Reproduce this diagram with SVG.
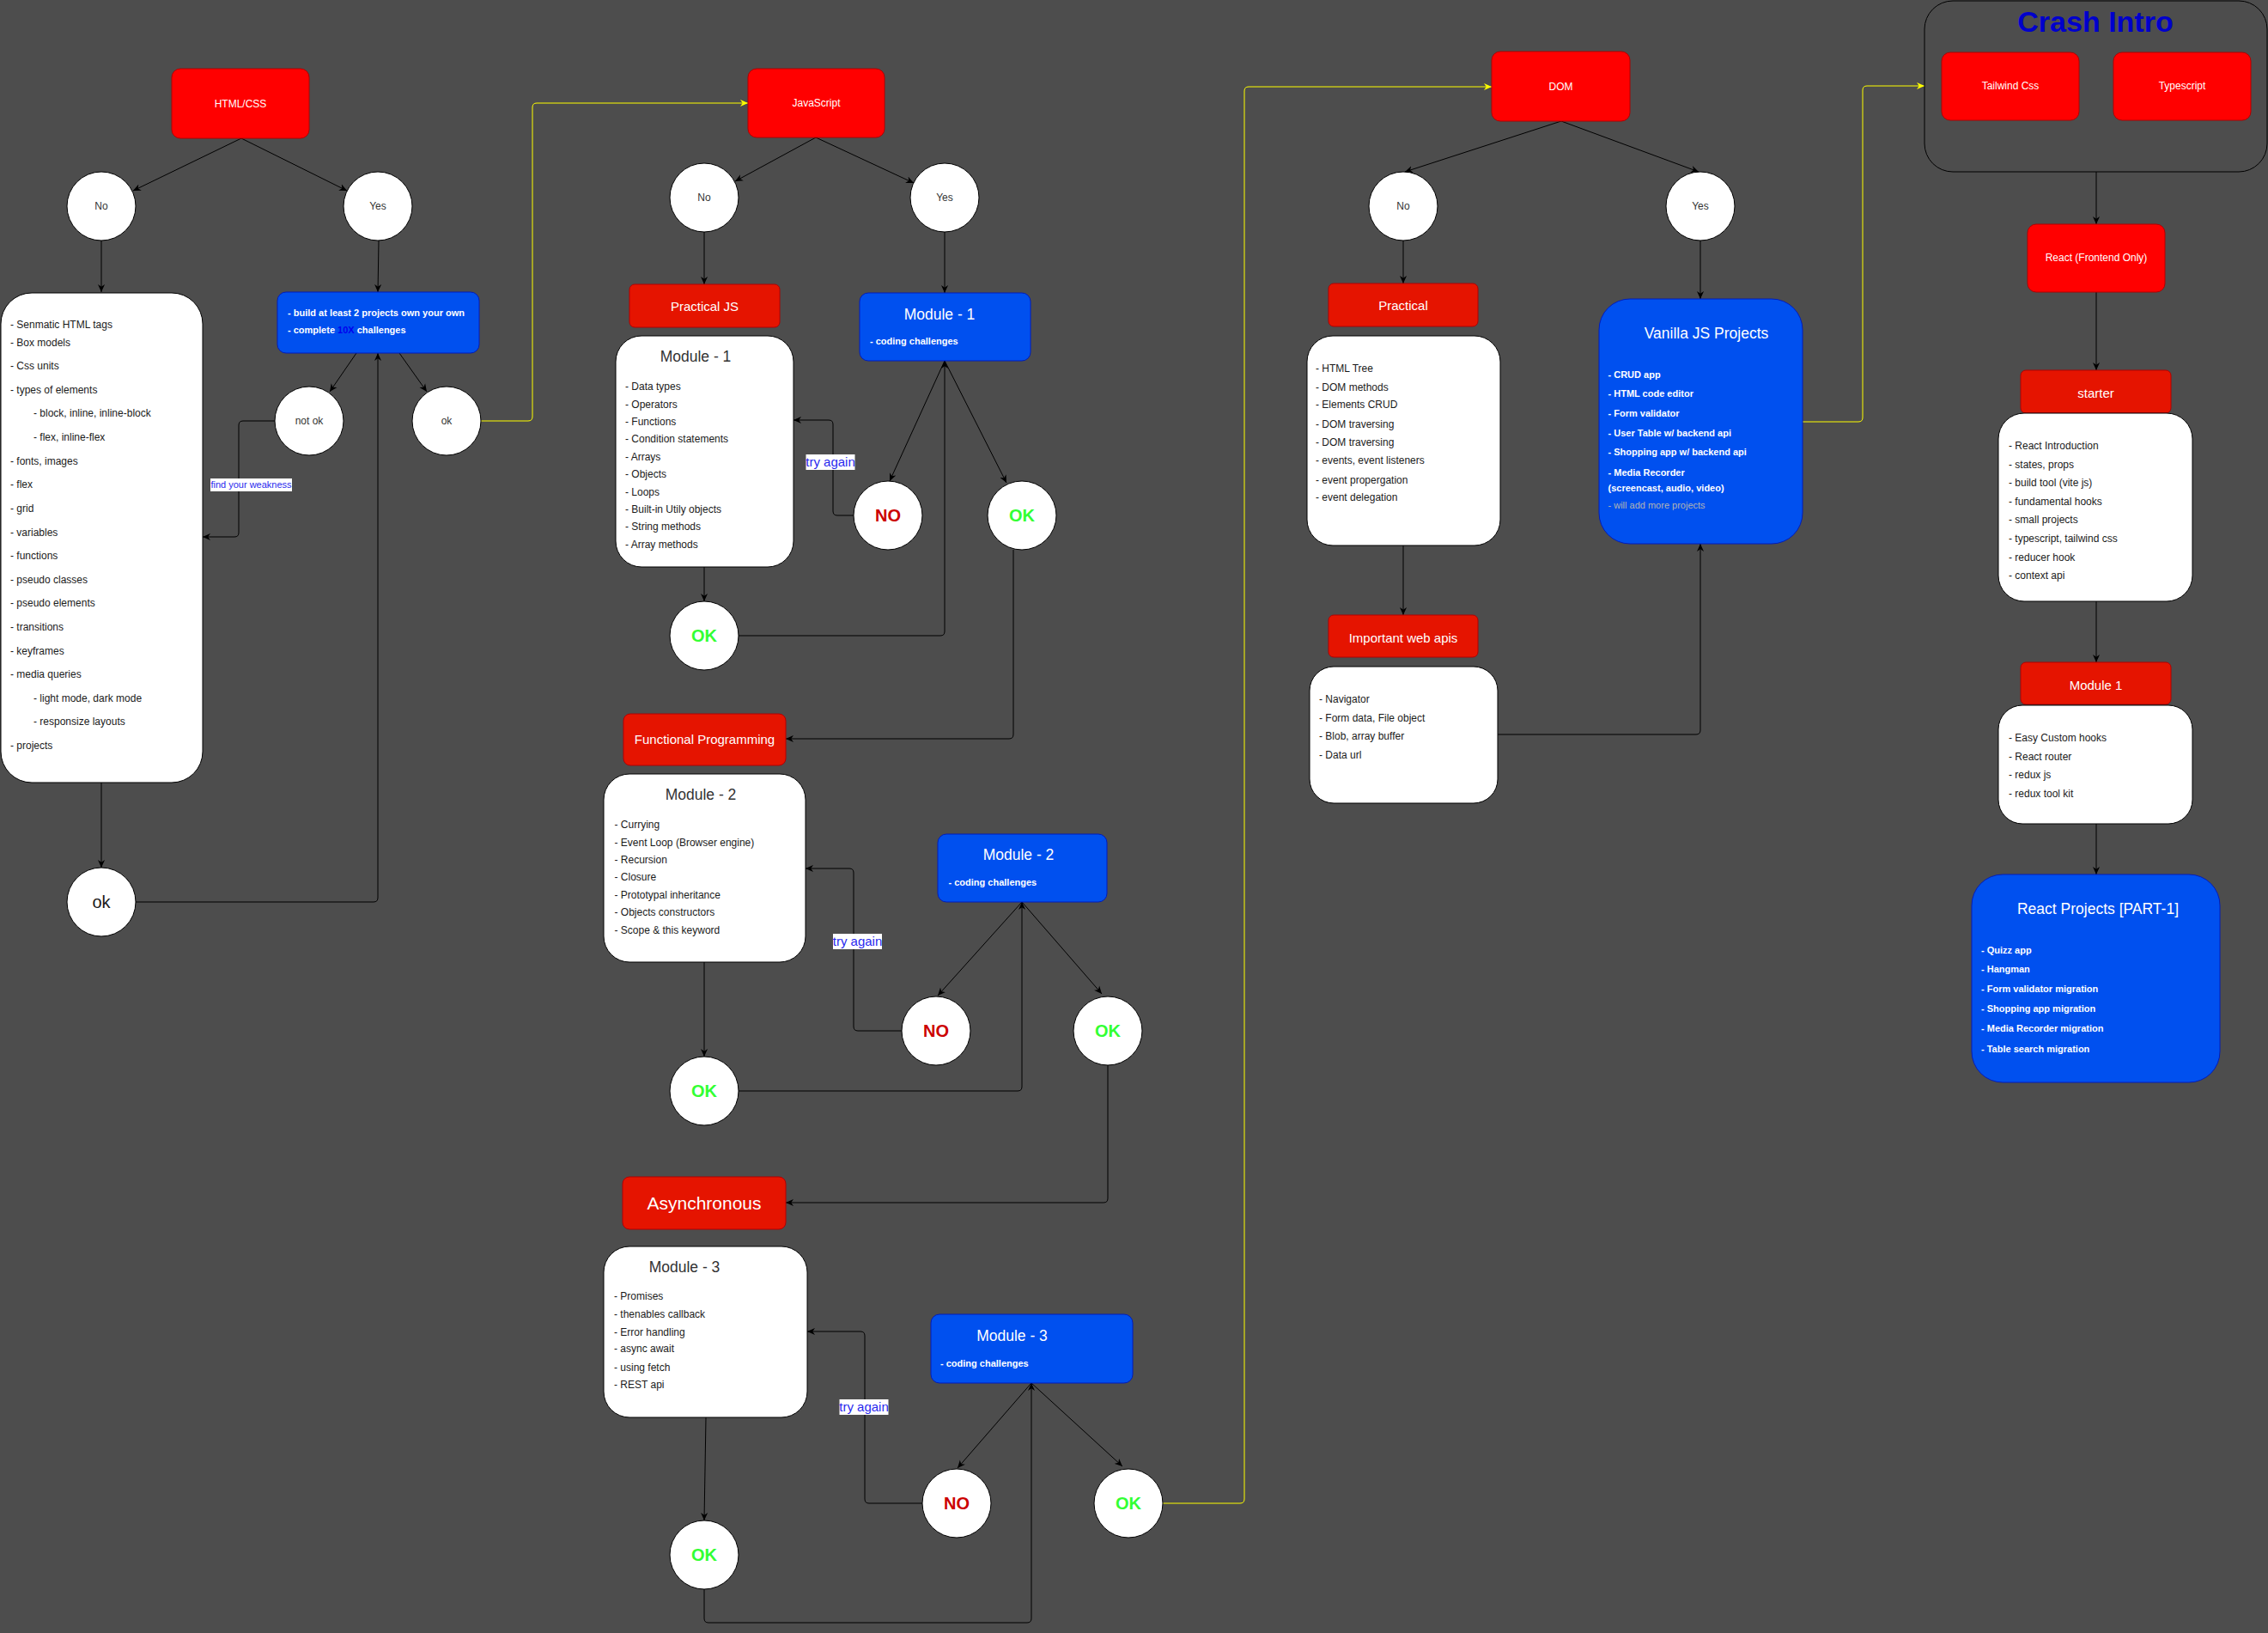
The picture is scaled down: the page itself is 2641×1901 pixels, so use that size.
<svg xmlns="http://www.w3.org/2000/svg" width="2641" height="1901" viewBox="0 0 2641 1901">
<defs>
<style>
text{font-family:"Liberation Sans",Arial,Helvetica,sans-serif}
.red{fill:#ff0000;stroke:#b20000;stroke-width:1}
.dred{fill:#e51400;stroke:#b20000;stroke-width:1}
.blue{fill:#0050ef;stroke:#001dbc;stroke-width:1}
.wb{fill:#ffffff;stroke:#000000;stroke-width:1}
.cont{fill:none;stroke:#000000;stroke-width:1}
.lw{fill:#ffffff;font-size:12px;text-anchor:middle}
.l15{fill:#ffffff;font-size:15px;text-anchor:middle}
.ttl{font-size:17.5px;text-anchor:middle}
.ttlw{fill:#ffffff}
.ttlk{fill:#333333}
.ct{fill:#333333;font-size:12px;text-anchor:middle}
.li{fill:#1a1a1a;font-size:12px}
.bi{fill:#ffffff;font-size:11px;font-weight:bold}
.no{fill:#cc0000;font-size:20px;font-weight:bold;text-anchor:middle}
.ok{fill:#33ff33;font-size:20px;font-weight:bold;text-anchor:middle}
.e{fill:none;stroke:#000000;stroke-width:1;marker-end:url(#a)}
.y{fill:none;stroke:#ffff00;stroke-width:1;marker-end:url(#ay)}
.lblbg{fill:#ffffff}
.lbl{fill:#2a2aee;font-size:15px;text-anchor:middle}
</style>
<marker id="a" viewBox="0 0 10 10" refX="10" refY="5" markerWidth="9" markerHeight="9" markerUnits="userSpaceOnUse" orient="auto"><path d="M0,0.5 L10,5 L0,9.5 L3,5 z" fill="#000000"/></marker>
<marker id="ay" viewBox="0 0 10 10" refX="10" refY="5" markerWidth="9" markerHeight="9" markerUnits="userSpaceOnUse" orient="auto"><path d="M0,0.5 L10,5 L0,9.5 L3,5 z" fill="#ffff00"/></marker>
</defs>
<rect x="0" y="0" width="2641" height="1901" fill="#4d4d4d"/>

<g id="connectors">
<!-- HTML/CSS -->
<path class="e" d="M281,161 L155,222"/>
<path class="e" d="M281,161 L404,222"/>
<path class="e" d="M118,280 L118,340"/>
<path class="e" d="M441,280 L440,340"/>
<path class="e" d="M415,411 L384,456"/>
<path class="e" d="M465,411 L497,456"/>
<path class="e" d="M320,490 L283,490 Q278,490 278,495 L278,620 Q278,625 273,625 L236,625"/>
<path class="e" d="M118,911 L118,1010"/>
<path class="e" d="M158,1050 L435,1050 Q440,1050 440,1045 L440,411"/>
<path class="y" d="M560,490 L615,490 Q620,490 620,485 L620,125 Q620,120 625,120 L871,120"/>
<!-- JavaScript -->
<path class="e" d="M950,160 L856,211"/>
<path class="e" d="M950,160 L1064,213"/>
<path class="e" d="M820,270 L820,331"/>
<path class="e" d="M1100,270 L1100,341"/>
<path class="e" d="M1100,420 L1036,560"/>
<path class="e" d="M1100,420 L1172,562"/>
<path class="e" d="M994,600 L975,600 Q970,600 970,595 L970,494 Q970,489 965,489 L924,489"/>
<path class="e" d="M820,660 L820,700"/>
<path class="e" d="M860,740 L1095,740 Q1100,740 1100,735 L1100,420"/>
<path class="e" d="M1180,640 L1180,855 Q1180,860 1175,860 L915,860"/>
<!-- Module 2 -->
<path class="e" d="M1190,1050 L1092,1159"/>
<path class="e" d="M1190,1050 L1283,1157"/>
<path class="e" d="M1050,1200 L999,1200 Q994,1200 994,1195 L994,1016 Q994,1011 989,1011 L938,1011"/>
<path class="e" d="M820,1120 L820,1230"/>
<path class="e" d="M860,1270 L1185,1270 Q1190,1270 1190,1265 L1190,1050"/>
<path class="e" d="M1290,1240 L1290,1395 Q1290,1400 1285,1400 L915,1400"/>
<!-- Module 3 -->
<path class="e" d="M1201,1610 L1115,1709"/>
<path class="e" d="M1201,1610 L1307,1707"/>
<path class="e" d="M1074,1750 L1012,1750 Q1007,1750 1007,1745 L1007,1555 Q1007,1550 1002,1550 L940,1550"/>
<path class="e" d="M822,1650 L820,1770"/>
<path class="e" d="M820,1850 L820,1884 Q820,1889 825,1889 L1196,1889 Q1201,1889 1201,1884 L1201,1610"/>
<path class="y" d="M1354,1750 L1444,1750 Q1449,1750 1449,1745 L1449,106 Q1449,101 1454,101 L1737,101"/>
<!-- DOM -->
<path class="e" d="M1818,141 L1636,200"/>
<path class="e" d="M1818,141 L1978,200"/>
<path class="e" d="M1634,280 L1634,330"/>
<path class="e" d="M1980,280 L1980,348"/>
<path class="e" d="M1634,635 L1634,716"/>
<path class="e" d="M1744,855 L1975,855 Q1980,855 1980,850 L1980,633"/>
<path class="y" d="M2099,491 L2164,491 Q2169,491 2169,486 L2169,105 Q2169,100 2174,100 L2241,100"/>
<!-- React -->
<path class="e" d="M2441,200 L2441,261"/>
<path class="e" d="M2441,340 L2441,431"/>
<path class="e" d="M2441,700 L2441,771"/>
<path class="e" d="M2441,959 L2441,1018"/>
<!-- labels -->
<rect class="lblbg" x="245" y="557" width="95" height="15"/>
<text x="292.5" y="568" fill="#2a2aee" font-size="11" text-anchor="middle">find your weakness</text>
<rect class="lblbg" x="938.5" y="529" width="57" height="18"/>
<text class="lbl" x="967" y="543">try again</text>
<rect class="lblbg" x="970" y="1087" width="57" height="18"/>
<text class="lbl" x="998.5" y="1101">try again</text>
<rect class="lblbg" x="977.5" y="1629" width="57" height="18"/>
<text class="lbl" x="1006" y="1643">try again</text>
</g>

<!-- HTML/CSS column -->
<g id="html-css"><rect class="red" x="200" y="80" width="160" height="81" rx="10"/><text class="lw" x="280" y="124.5">HTML/CSS</text></g>
<g id="html-no"><circle class="wb" cx="118" cy="240" r="40"/><text class="ct" x="118" y="244">No</text></g>
<g id="html-yes"><circle class="wb" cx="440" cy="240" r="40"/><text class="ct" x="440" y="244">Yes</text></g>
<g id="html-topics"><rect class="wb" x="1" y="341" width="235" height="570" rx="36"/>
<text class="li"><tspan x="12" y="382">- Senmatic HTML tags</tspan><tspan x="12" y="403">- Box models</tspan><tspan x="12" y="430">- Css units</tspan><tspan x="12" y="458">- types of elements</tspan><tspan x="39" y="485">- block, inline, inline-block</tspan><tspan x="39" y="513">- flex, inline-flex</tspan><tspan x="12" y="541">- fonts, images</tspan><tspan x="12" y="568">- flex</tspan><tspan x="12" y="596">- grid</tspan><tspan x="12" y="624">- variables</tspan><tspan x="12" y="651">- functions</tspan><tspan x="12" y="679">- pseudo classes</tspan><tspan x="12" y="706">- pseudo elements</tspan><tspan x="12" y="734">- transitions</tspan><tspan x="12" y="762">- keyframes</tspan><tspan x="12" y="789">- media queries</tspan><tspan x="39" y="817">- light mode, dark mode</tspan><tspan x="39" y="844">- responsize layouts</tspan><tspan x="12" y="872">- projects</tspan></text></g>
<g id="html-build"><rect class="blue" x="323" y="340" width="235" height="71" rx="10"/>
<text class="bi"><tspan x="335" y="368">- build at least 2 projects own your own</tspan><tspan x="335" y="388">- complete <tspan fill="#0000ee">10X</tspan> challenges</tspan></text></g>
<g id="html-notok"><circle class="wb" cx="360" cy="490" r="40"/><text class="ct" x="360" y="494">not ok</text></g>
<g id="html-ok"><circle class="wb" cx="520" cy="490" r="40"/><text class="ct" x="520" y="494">ok</text></g>
<g id="html-ok2"><circle class="wb" cx="118" cy="1050" r="40"/><text x="118" y="1057" fill="#1a1a1a" font-size="20" text-anchor="middle">ok</text></g>

<!-- JavaScript column -->
<g id="js"><rect class="red" x="871" y="80" width="159" height="80" rx="10"/><text class="lw" x="950.5" y="124">JavaScript</text></g>
<g id="js-no"><circle class="wb" cx="820" cy="230" r="40"/><text class="ct" x="820" y="234">No</text></g>
<g id="js-yes"><circle class="wb" cx="1100" cy="230" r="40"/><text class="ct" x="1100" y="234">Yes</text></g>
<g id="practical-js"><rect class="dred" x="733" y="331" width="175" height="50" rx="6"/><text class="l15" x="820.5" y="362">Practical JS</text></g>
<g id="js-module1"><rect class="wb" x="717" y="391" width="207" height="269" rx="30"/>
<text class="ttl ttlk" x="810" y="421">Module - 1</text>
<text class="li"><tspan x="728" y="454">- Data types</tspan><tspan x="728" y="475">- Operators</tspan><tspan x="728" y="495">- Functions</tspan><tspan x="728" y="515">- Condition statements</tspan><tspan x="728" y="536">- Arrays</tspan><tspan x="728" y="556">- Objects</tspan><tspan x="728" y="577">- Loops</tspan><tspan x="728" y="597">- Built-in Utily objects</tspan><tspan x="728" y="617">- String methods</tspan><tspan x="728" y="638">- Array methods</tspan></text></g>
<g id="js-challenge1"><rect class="blue" x="1001" y="341" width="199" height="79" rx="10"/>
<text class="ttl ttlw" x="1094" y="372">Module - 1</text><text class="bi" x="1013" y="401">- coding challenges</text></g>
<g id="js-no1"><circle class="wb" cx="1034" cy="600" r="40"/><text class="no" x="1034" y="607">NO</text></g>
<g id="js-ok1r"><circle class="wb" cx="1190" cy="600" r="40"/><text class="ok" x="1190" y="607">OK</text></g>
<g id="js-ok1l"><circle class="wb" cx="820" cy="740" r="40"/><text class="ok" x="820" y="747">OK</text></g>

<g id="functional"><rect class="dred" x="726" y="831" width="189" height="60" rx="8"/><text class="l15" x="820.5" y="866">Functional Programming</text></g>
<g id="js-module2"><rect class="wb" x="703" y="901" width="235" height="219" rx="30"/>
<text class="ttl ttlk" x="816" y="931">Module - 2</text>
<text class="li"><tspan x="715.5" y="964">- Currying</tspan><tspan x="715.5" y="985">- Event Loop (Browser engine)</tspan><tspan x="715.5" y="1005">- Recursion</tspan><tspan x="715.5" y="1025">- Closure</tspan><tspan x="715.5" y="1046">- Prototypal inheritance</tspan><tspan x="715.5" y="1066">- Objects constructors</tspan><tspan x="715.5" y="1087">- Scope &amp; this keyword</tspan></text></g>
<g id="js-challenge2"><rect class="blue" x="1092" y="971" width="197" height="79" rx="10"/>
<text class="ttl ttlw" x="1186" y="1001">Module - 2</text><text class="bi" x="1104.5" y="1031">- coding challenges</text></g>
<g id="js-no2"><circle class="wb" cx="1090" cy="1200" r="40"/><text class="no" x="1090" y="1207">NO</text></g>
<g id="js-ok2r"><circle class="wb" cx="1290" cy="1200" r="40"/><text class="ok" x="1290" y="1207">OK</text></g>
<g id="js-ok2l"><circle class="wb" cx="820" cy="1270" r="40"/><text class="ok" x="820" y="1277">OK</text></g>

<g id="async"><rect class="dred" x="725" y="1370" width="190" height="61" rx="8"/><text x="820" y="1408" fill="#ffffff" font-size="21" text-anchor="middle">Asynchronous</text></g>
<g id="js-module3"><rect class="wb" x="703" y="1451" width="237" height="199" rx="30"/>
<text class="ttl ttlk" x="797" y="1481">Module - 3</text>
<text class="li"><tspan x="715" y="1513">- Promises</tspan><tspan x="715" y="1534">- thenables callback</tspan><tspan x="715" y="1555">- Error handling</tspan><tspan x="715" y="1574">- async await</tspan><tspan x="715" y="1596">- using fetch</tspan><tspan x="715" y="1616">- REST api</tspan></text></g>
<g id="js-challenge3"><rect class="blue" x="1084" y="1530" width="235" height="80" rx="10"/>
<text class="ttl ttlw" x="1178.5" y="1561">Module - 3</text><text class="bi" x="1095" y="1591">- coding challenges</text></g>
<g id="js-no3"><circle class="wb" cx="1114" cy="1750" r="40"/><text class="no" x="1114" y="1757">NO</text></g>
<g id="js-ok3r"><circle class="wb" cx="1314" cy="1750" r="40"/><text class="ok" x="1314" y="1757">OK</text></g>
<g id="js-ok3l"><circle class="wb" cx="820" cy="1810" r="40"/><text class="ok" x="820" y="1817">OK</text></g>

<!-- DOM column -->
<g id="dom"><rect class="red" x="1737" y="60" width="161" height="81" rx="10"/><text class="lw" x="1817.5" y="105">DOM</text></g>
<g id="dom-no"><circle class="wb" cx="1634" cy="240" r="40"/><text class="ct" x="1634" y="244">No</text></g>
<g id="dom-yes"><circle class="wb" cx="1980" cy="240" r="40"/><text class="ct" x="1980" y="244">Yes</text></g>
<g id="dom-practical"><rect class="dred" x="1547" y="330" width="174" height="50" rx="6"/><text class="l15" x="1634" y="361">Practical</text></g>
<g id="dom-topics"><rect class="wb" x="1522" y="391" width="225" height="244" rx="30"/>
<text class="li"><tspan x="1532" y="433">- HTML Tree</tspan><tspan x="1532" y="455">- DOM methods</tspan><tspan x="1532" y="475">- Elements CRUD</tspan><tspan x="1532" y="498">- DOM traversing</tspan><tspan x="1532" y="519">- DOM traversing</tspan><tspan x="1532" y="540">- events, event listeners</tspan><tspan x="1532" y="563">- event propergation</tspan><tspan x="1532" y="583">- event delegation</tspan></text></g>
<g id="dom-webapis"><rect class="dred" x="1547" y="716" width="174" height="49" rx="6"/><text class="l15" x="1634" y="748">Important web apis</text></g>
<g id="dom-webapi-topics"><rect class="wb" x="1525" y="776" width="219" height="159" rx="28"/>
<text class="li"><tspan x="1536" y="818">- Navigator</tspan><tspan x="1536" y="840">- Form data, File object</tspan><tspan x="1536" y="861">- Blob, array buffer</tspan><tspan x="1536" y="883">- Data url</tspan></text></g>
<g id="vanilla"><rect class="blue" x="1862" y="348" width="237" height="285" rx="36"/>
<text class="ttl ttlw" x="1987" y="394">Vanilla JS Projects</text>
<text class="bi"><tspan x="1872.5" y="440">- CRUD app</tspan><tspan x="1872.5" y="462">- HTML code editor</tspan><tspan x="1872.5" y="485">- Form validator</tspan><tspan x="1872.5" y="508">- User Table w/ backend api</tspan><tspan x="1872.5" y="530">- Shopping app w/ backend api</tspan><tspan x="1872.5" y="554">- Media Recorder</tspan><tspan x="1872.5" y="572">(screencast, audio, video)</tspan></text>
<text x="1872.5" y="591.5" fill="#b3b3b3" font-size="11">- will add more projects</text></g>

<!-- React column -->
<g id="crash-intro"><rect class="cont" x="2241" y="1" width="399" height="199" rx="33"/>
<text x="2440" y="37" fill="#0000cc" font-size="34" font-weight="bold" text-anchor="middle">Crash Intro</text></g>
<g id="tailwind"><rect class="red" x="2261" y="61" width="160" height="79" rx="10"/><text class="lw" x="2341" y="104">Tailwind Css</text></g>
<g id="typescript"><rect class="red" x="2461" y="61" width="160" height="79" rx="10"/><text class="lw" x="2541" y="104">Typescript</text></g>
<g id="react"><rect class="red" x="2361" y="261" width="160" height="79" rx="10"/><text class="lw" x="2441" y="304">React (Frontend Only)</text></g>
<g id="starter"><rect class="dred" x="2353" y="431" width="175" height="50" rx="6"/><text class="l15" x="2440.5" y="463">starter</text></g>
<g id="starter-topics"><rect class="wb" x="2327" y="481" width="226" height="219" rx="30"/>
<text class="li"><tspan x="2339" y="523">- React Introduction</tspan><tspan x="2339" y="545">- states, props</tspan><tspan x="2339" y="566">- build tool (vite js)</tspan><tspan x="2339" y="588">- fundamental hooks</tspan><tspan x="2339" y="609">- small projects</tspan><tspan x="2339" y="631">- typescript, tailwind css</tspan><tspan x="2339" y="653">- reducer hook</tspan><tspan x="2339" y="674">- context api</tspan></text></g>
<g id="react-module1"><rect class="dred" x="2353" y="771" width="175" height="49" rx="6"/><text class="l15" x="2440.5" y="803">Module 1</text></g>
<g id="module1-topics"><rect class="wb" x="2327" y="821" width="226" height="138" rx="28"/>
<text class="li"><tspan x="2339" y="863">- Easy Custom hooks</tspan><tspan x="2339" y="885">- React router</tspan><tspan x="2339" y="906">- redux js</tspan><tspan x="2339" y="928">- redux tool kit</tspan></text></g>
<g id="react-projects"><rect class="blue" x="2296" y="1018" width="289" height="242" rx="36"/>
<text class="ttl ttlw" x="2443" y="1064">React Projects [PART-1]</text>
<text class="bi"><tspan x="2307" y="1110">- Quizz app</tspan><tspan x="2307" y="1132">- Hangman</tspan><tspan x="2307" y="1155">- Form validator migration</tspan><tspan x="2307" y="1178">- Shopping app migration</tspan><tspan x="2307" y="1201">- Media Recorder migration</tspan><tspan x="2307" y="1225">- Table search migration</tspan></text></g>
</svg>
